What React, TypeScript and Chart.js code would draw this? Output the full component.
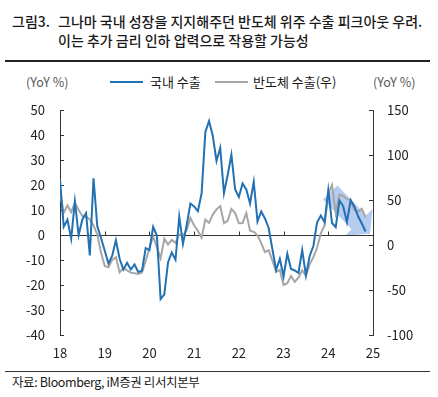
import React, { useEffect, useRef } from "react";
import { Chart, registerables } from "chart.js";

Chart.register(...registerables);

// Monthly, Jan 2018 – Nov 2024
const exportsYoY = [
  22.2, 3.3, 6.1, -1.5, 13.5, -0.1, 6.2, 8.7, -8.2, 22.7, 3.6, -1.2,
  -6.2, -11.4, -8.4, -2.1, -9.5, -13.8, -11.1, -13.8, -11.8, -14.8, -14.3, -5.2,
  -6.1, 3.3, -0.2, -25.6, -23.7, -10.9, -7.0, -9.9, 7.3, -3.6, 4.0, 12.6,
  11.4, 9.5, 16.6, 41.1, 45.6, 39.7, 29.6, 34.9, 16.7, 24.0, 32.1, 18.3,
  15.2, 20.6, 18.2, 12.6, 21.3, 5.4, 9.4, 6.6, 2.8, -5.7, -14.0, -9.5,
  -16.6, -7.5, -13.6, -14.2, -15.2, -6.0, -16.2, -8.4, -4.4, 5.1, 7.8, 5.1,
  18.0, 4.8, 3.1, 13.8, 11.5, 5.1, 13.9, 11.4, 7.5, 4.6, 1.4,
];

const chipYoY = [
  58.0, 35.8, 43.9, 36.4, 46.8, 38.9, 32.2, 31.5, 28.3, 21.8, 11.6, -8.3,
  -23.3, -24.8, -16.6, -13.5, -30.5, -25.5, -28.1, -30.7, -31.5, -32.1, -30.8, -17.7,
  -3.4, 9.4, -2.7, -14.9, 7.1, 0.6, 5.6, 2.4, 11.8, 10.4, 16.3, 30.0,
  21.7, 15.8, 8.2, 28.2, 24.5, 33.8, 39.6, 43.3, 24.3, 26.9, 40.1, 35.5,
  24.2, 24.4, 35.5, 15.8, 14.6, 10.7, 2.1, -7.8, -5.7, -17.4, -29.8, -27.8,
  -44.5, -42.5, -34.5, -41.0, -36.2, -28.0, -34.2, -21.5, -13.6, -3.1, 12.9, 21.8,
  56.2, 66.7, 35.7, 56.1, 54.5, 50.9, 50.4, 38.8, 37.1, 40.3, 30.8,
];

const yearLabels = ["18", "19", "20", "21", "22", "23", "24", "25"];
const seriesNames = ["국내 수출", "반도체 수출(우)"];
const leftUnit = "(YoY %)";
const rightUnit = "(YoY %)";
const titleLabel = "그림3.";
const titleLines = [
  "그나마 국내 성장을 지지해주던 반도체 위주 수출 피크아웃 우려.",
  "이는 추가 금리 인하 압력으로 작용할 가능성",
];
const sourceText = "자료: Bloomberg, iM증권 리서치본부";

// Arrow annotation (month index, left-axis value)
const arrowFrom = { month: 72.5, value: 17 };
const arrowTo = { month: 83.2, value: 0.5 };

const BLUE = "#2271b3";
const GRAY = "#a6a6a6";
const FONT = "'Noto Sans CJK KR', 'Noto Sans', sans-serif";

const axesPlugin = {
  id: "customAxes",
  beforeDatasetsDraw(chart: any) {
    const { ctx, chartArea, scales } = chart;
    const x = scales.x;
    const y = scales.y;
    const y2 = scales.y2;
    ctx.save();
    // arrow
    const sx = x.getPixelForValue(arrowFrom.month);
    const sy = y.getPixelForValue(arrowFrom.value);
    const tx = x.getPixelForValue(arrowTo.month);
    const ty = y.getPixelForValue(arrowTo.value);
    const len = Math.hypot(tx - sx, ty - sy);
    const dx = (tx - sx) / len;
    const dy = (ty - sy) / len;
    const px = -dy;
    const py = dx;
    const headLen = 16;
    const shaftHW = 10;
    const headHW = 19;
    const bx = tx - dx * headLen;
    const by = ty - dy * headLen;
    ctx.fillStyle = "rgba(120,160,225,0.55)";
    ctx.beginPath();
    ctx.moveTo(sx + px * shaftHW, sy + py * shaftHW);
    ctx.lineTo(bx + px * shaftHW, by + py * shaftHW);
    ctx.lineTo(bx + px * headHW, by + py * headHW);
    ctx.lineTo(tx, ty);
    ctx.lineTo(bx - px * headHW, by - py * headHW);
    ctx.lineTo(bx - px * shaftHW, by - py * shaftHW);
    ctx.lineTo(sx - px * shaftHW, sy - py * shaftHW);
    ctx.closePath();
    ctx.fill();

    ctx.strokeStyle = "#333";
    ctx.lineWidth = 1;
    const y0 = Math.round(y.getPixelForValue(0)) + 0.5;
    ctx.beginPath();
    ctx.moveTo(chartArea.left, y0);
    ctx.lineTo(chartArea.right, y0);
    for (let i = 0; i < yearLabels.length; i++) {
      const xx = Math.round(x.getPixelForValue(i * 12)) + 0.5;
      ctx.moveTo(xx, y0);
      ctx.lineTo(xx, y0 - 4);
    }
    y.ticks.forEach((t: any) => {
      const yy = Math.round(y.getPixelForValue(t.value)) + 0.5;
      ctx.moveTo(chartArea.left, yy);
      ctx.lineTo(chartArea.left + 4, yy);
    });
    y2.ticks.forEach((t: any) => {
      const yy = Math.round(y2.getPixelForValue(t.value)) + 0.5;
      ctx.moveTo(chartArea.right, yy);
      ctx.lineTo(chartArea.right - 4, yy);
    });
    ctx.stroke();
    ctx.restore();
  },
};

function ChartCanvas() {
  const ref = useRef<HTMLCanvasElement | null>(null);
  useEffect(() => {
    if (!ref.current) return;
    const tickFont = { family: FONT, size: 13 };
    const chart = new Chart(ref.current, {
      type: "line",
      data: {
        datasets: [
          {
            label: seriesNames[0],
            data: exportsYoY.map((v, i) => ({ x: i, y: v })),
            borderColor: BLUE,
            borderWidth: 2,
            pointRadius: 0,
            yAxisID: "y",
            tension: 0,
          },
          {
            label: seriesNames[1],
            data: chipYoY.map((v, i) => ({ x: i, y: v })),
            borderColor: GRAY,
            borderWidth: 2,
            pointRadius: 0,
            yAxisID: "y2",
            tension: 0,
          },
        ],
      },
      options: {
        responsive: false,
        animation: false,
        devicePixelRatio: 1,
        layout: { padding: { top: 50, left: 0, right: 0, bottom: 0 } },
        plugins: { legend: { display: false }, tooltip: { enabled: false } },
        scales: {
          x: {
            type: "linear",
            min: 0,
            max: 84,
            grid: { display: false, drawTicks: false },
            border: { display: false },
            ticks: {
              stepSize: 12,
              autoSkip: false,
              maxRotation: 0,
              padding: 10,
              color: "#222",
              font: tickFont,
              callback: (v: any) => yearLabels[Math.round(v / 12)] ?? "",
            },
            afterFit: (s: any) => {
              s.height = 35;
            },
          },
          y: {
            position: "left",
            min: -40,
            max: 50,
            grid: { display: false, drawTicks: false },
            border: { display: true, color: "#333", width: 1 },
            ticks: { stepSize: 10, padding: 15, color: "#222", font: tickFont },
            afterFit: (s: any) => {
              s.width = 60;
            },
          },
          y2: {
            position: "right",
            min: -100,
            max: 150,
            grid: { display: false, drawTicks: false },
            border: { display: true, color: "#333", width: 1 },
            ticks: { stepSize: 50, padding: 14, color: "#222", font: tickFont },
            afterFit: (s: any) => {
              s.width = 65;
            },
          },
        },
      } as any,
      plugins: [axesPlugin],
    });
    return () => chart.destroy();
  }, []);
  return (
    <canvas
      ref={ref}
      width={438}
      height={310}
      style={{ position: "absolute", left: 0, top: 60, width: 438, height: 310 }}
    />
  );
}

const textStyle = (left: number, centerY: number, size: number, extra: any = {}) => ({
  position: "absolute" as const,
  left,
  top: centerY - 10,
  height: 20,
  lineHeight: "20px",
  fontSize: size,
  fontFamily: FONT,
  color: "#1a1a1a",
  whiteSpace: "nowrap" as const,
  ...extra,
});

export default function App() {
  return (
    <div
      style={{
        position: "absolute",
        left: 0,
        top: 0,
        width: 438,
        height: 397,
        background: "#fff",
        overflow: "hidden",
      }}
    >
      <div style={textStyle(12, 20.5, 14, { fontWeight: 500 })}>{titleLabel}</div>
      <div style={textStyle(58, 20.5, 14, { fontWeight: 500 })}>{titleLines[0]}</div>
      <div style={textStyle(58, 39.5, 14, { fontWeight: 500 })}>{titleLines[1]}</div>
      <div style={{ position: "absolute", left: 5, top: 60, width: 425, height: 2, background: "#222" }} />

      <div style={textStyle(26, 81.5, 12.5, { color: "#595959" })}>{leftUnit}</div>
      <div style={{ position: "absolute", left: 110, top: 80.5, width: 33, height: 2, background: BLUE }} />
      <div style={textStyle(150, 81.5, 13)}>{seriesNames[0]}</div>
      <div style={{ position: "absolute", left: 215, top: 80.5, width: 33, height: 2, background: GRAY }} />
      <div style={textStyle(253, 81.5, 13)}>{seriesNames[1]}</div>
      <div style={textStyle(373, 81.5, 12.5, { color: "#595959" })}>{rightUnit}</div>

      <ChartCanvas />

      <div style={{ position: "absolute", left: 5, top: 371, width: 425, height: 1, background: "#333" }} />
      <div style={textStyle(12, 381.5, 12.5, { letterSpacing: -0.4 })}>{sourceText}</div>
    </div>
  );
}
